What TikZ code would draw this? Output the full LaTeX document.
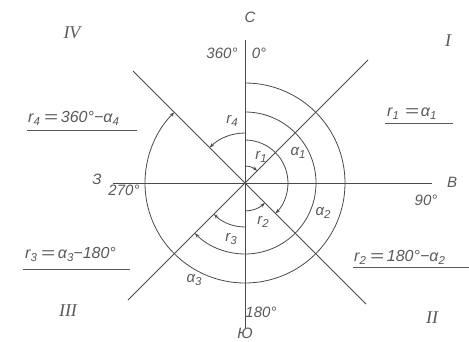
\documentclass[tikz,border=0pt]{standalone}
\usepackage{fontspec}
\usepackage{graphicx}
\setmainfont{Liberation Sans}
\newfontfamily\romfont{Liberation Serif}
\usetikzlibrary{arrows.meta}
\definecolor{linegray}{HTML}{4A4A4A}
\definecolor{textgray}{HTML}{5A5A5A}
\newcommand{\sbs}[1]{\raisebox{-0.45ex}{\fontsize{11.5}{12}\selectfont #1}}
\newcommand{\weq}{\hspace{4pt}\scalebox{1.5}[1]{=}\hspace{3pt}}
\tikzset{
  axisline/.style={draw=linegray, line width=0.8pt},
  arcline/.style={draw=linegray, line width=0.8pt, -{Stealth[length=5pt,width=3.5pt]}},
  lab/.style={text=textgray, font=\fontsize{15}{17}\selectfont\itshape, inner sep=1pt},
  flab/.style={text=textgray, font=\fontsize{16}{18}\selectfont\itshape, inner sep=1pt},
  roman/.style={text=textgray, font=\fontsize{18}{20}\selectfont\romfont\itshape, inner sep=1pt},
  uline/.style={draw=textgray, line width=0.8pt}
}
\begin{document}
\begin{tikzpicture}[x=1pt,y=1pt]
\fill[white] (0,0) rectangle (469,341);
\useasboundingbox (0,0) rectangle (469,341);
% centre and line ends
\coordinate (O) at (245,158);
\coordinate (N) at (245,301);
\coordinate (S) at (245,13);
\coordinate (W) at (113,158);
\coordinate (E) at (432,158);
\coordinate (NE) at (368,281);
\coordinate (SW) at (128,41);
\coordinate (NW) at (133,270);
\coordinate (SE) at (366,37);
\draw[axisline] (N) -- (S);
\draw[axisline] (W) -- (E);
\draw[axisline] (SW) -- (NE);
\draw[axisline] (NW) -- (SE);
% azimuth arcs
\draw[arcline] (O) ++(90:100) arc[start angle=90, end angle=-225, radius=100];
\draw[arcline] (O) ++(90:71) arc[start angle=90, end angle=-135, radius=71];
\draw[arcline] (O) ++(90:43) arc[start angle=90, end angle=-45, radius=43];
% rhumb arcs
\draw[arcline] (O) ++(90:17) arc[start angle=90, end angle=45, radius=17];
\draw[arcline] (O) ++(90:50) arc[start angle=90, end angle=135, radius=50];
\draw[arcline] (O) ++(-90:28) arc[start angle=-90, end angle=-45, radius=28];
\draw[arcline] (O) ++(-90:44) arc[start angle=-90, end angle=-135, radius=44];
% cardinal labels
\node[lab] (lC) at (250,324) {С};
\node[lab] (l360) at (222,288) {360°};
\node[lab] (l0) at (259,288) {0°};
\node[lab] (lZ) at (97,162) {З};
\node[lab] (l270) at (124,151) {270°};
\node[lab] (l90) at (426,141) {90°};
\node[lab] (lV) at (452,159) {В};
\node[lab] (l180) at (261,29) {180°};
\node[lab] (lJu) at (245,8) {Ю};
% quadrant numerals
\node[roman] (qIV) at (72,308) {IV};
\node[roman] (qI) at (448,300) {I};
\node[roman] (qIII) at (68,30) {III};
\node[roman] (qII) at (432,23) {II};
% arc labels
\node[lab] (a1) at (298,188) {α\sbs{1}};
\node[lab] (a2) at (323,128) {α\sbs{2}};
\node[lab] (a3) at (194,61) {α\sbs{3}};
\node[lab] (r1) at (261,184) {r\sbs{1}};
\node[lab] (r2) at (263,119) {r\sbs{2}};
\node[lab] (r3) at (231,102) {r\sbs{3}};
\node[lab] (r4) at (232,220) {r\sbs{4}};
% formulas
\node[flab, anchor=base west] (f1) at (386,225) {r\sbs{1}\hspace{6pt}\scalebox{1.5}[1]{=}\hspace{2pt}α\sbs{1}};
\node[flab, anchor=base west] (f4) at (27,219) {r\sbs{4}\weq 360°−α\sbs{4}};
\node[flab, anchor=base west] (f2) at (353,80) {r\sbs{2}\weq 180°−α\sbs{2}};
\node[flab, anchor=base west] (f3) at (24,83) {r\sbs{3}\weq α\sbs{3}−180°};
\draw[uline] (385,218) -- (453,218);
\draw[uline] (27,211) -- (137,211);
\draw[uline] (353,74) -- (469,74);
\draw[uline] (23,72) -- (130,72);
\end{tikzpicture}
\end{document}
